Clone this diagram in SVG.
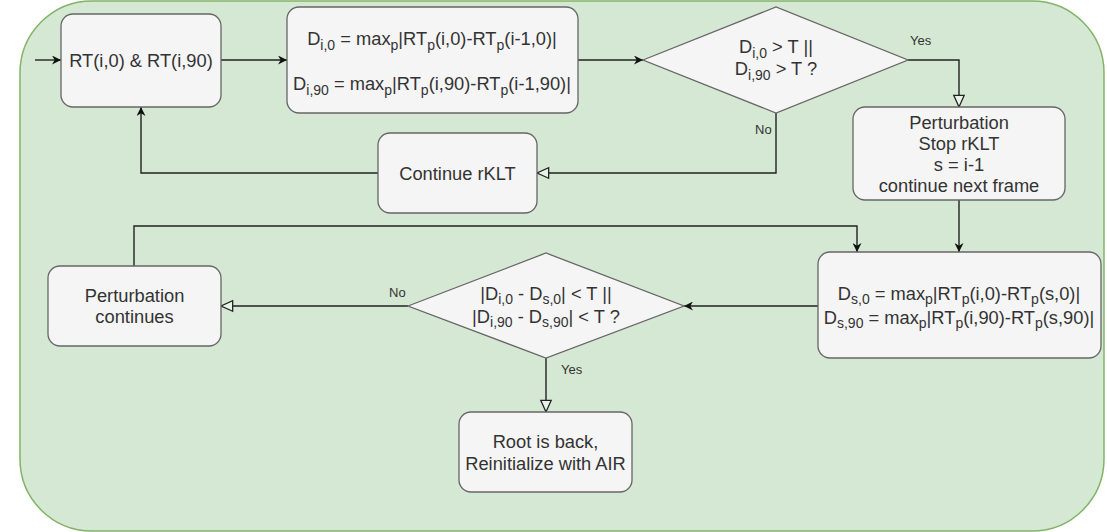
<svg xmlns="http://www.w3.org/2000/svg" width="1107" height="532" viewBox="0 0 1107 532">
<style>
.bg{fill:#d5e8d4;stroke:#82b366;stroke-width:1.5}
.nd{fill:#f5f5f5;stroke:#666666;stroke-width:1.3}
.t{font-family:"Liberation Sans",Arial,sans-serif;font-size:18.3px;fill:#333333;text-anchor:middle}
.sb{font-size:14px}
.lb{font-family:"Liberation Sans",Arial,sans-serif;font-size:13px;fill:#333333}
.e{fill:none;stroke:#222222;stroke-width:1.4}
.fa{marker-end:url(#arr)}
.ha{marker-end:url(#tri)}
</style>
<defs>
<marker id="arr" viewBox="0 0 10 10" refX="10" refY="5" markerWidth="10" markerHeight="9" markerUnits="userSpaceOnUse" orient="auto">
<path d="M0,0 L10,5 L0,10 L3,5 Z" fill="#111111"/>
</marker>
<marker id="tri" viewBox="-1 -1 12 12" refX="10" refY="5" markerWidth="14" markerHeight="14" markerUnits="userSpaceOnUse" orient="auto" overflow="visible">
<path d="M0,0.5 L10,5 L0,9.5 Z" fill="#e9f2e8" stroke="#222222" stroke-width="1.1"/>
</marker>
</defs>
<rect class="bg" x="20" y="1" width="1084" height="530" rx="72" ry="72"/>
<g id="connectors">
<path class="e fa" d="M35,60 H61"/>
<path class="e fa" d="M221,60 H287"/>
<path class="e fa" d="M578,60 H643"/>
<path class="e ha" d="M908,60 H959 V107"/>
<path class="e ha" d="M776,113 V173 H537"/>
<path class="e fa" d="M378,173 H141 V107"/>
<path class="e fa" d="M959,200 V252"/>
<path class="e fa" d="M134,266 V226 H857 V252"/>
<path class="e fa" d="M818,306 H684"/>
<path class="e ha" d="M408,306 H221"/>
<path class="e ha" d="M546,358 V412"/>
<text class="lb" x="910" y="45">Yes</text>
<text class="lb" x="755" y="134">No</text>
<text class="lb" x="389" y="297">No</text>
<text class="lb" x="561" y="374">Yes</text>
</g>
<g id="n1">
<rect class="nd" x="61" y="14" width="160" height="93" rx="12"/>
<text class="t" x="141" y="67">RT(i,0) &amp; RT(i,90)</text>
</g>
<g id="n2">
<rect class="nd" x="287" y="7" width="291" height="106" rx="12"/>
<text class="t" x="432" y="45">D<tspan class="sb" dy="5">i,0</tspan><tspan dy="-5"> = max</tspan><tspan class="sb" dy="5">p</tspan><tspan dy="-5">|RT</tspan><tspan class="sb" dy="5">p</tspan><tspan dy="-5">(i,0)-RT</tspan><tspan class="sb" dy="5">p</tspan><tspan dy="-5">(i-1,0)|</tspan></text>
<text class="t" x="432" y="90">D<tspan class="sb" dy="5">i,90</tspan><tspan dy="-5"> = max</tspan><tspan class="sb" dy="5">p</tspan><tspan dy="-5">|RT</tspan><tspan class="sb" dy="5">p</tspan><tspan dy="-5">(i,90)-RT</tspan><tspan class="sb" dy="5">p</tspan><tspan dy="-5">(i-1,90)|</tspan></text>
</g>
<g id="d1">
<polygon class="nd" points="643,60 776,7 908,60 776,113"/>
<text class="t" x="776" y="53">D<tspan class="sb" dy="5">i,0</tspan><tspan dy="-5"> &gt; T ||</tspan></text>
<text class="t" x="776" y="75">D<tspan class="sb" dy="5">i,90</tspan><tspan dy="-5"> &gt; T ?</tspan></text>
</g>
<g id="cont">
<rect class="nd" x="378" y="133" width="159" height="80" rx="12"/>
<text class="t" x="457.5" y="180">Continue rKLT</text>
</g>
<g id="pert">
<rect class="nd" x="853" y="107" width="212" height="93" rx="12"/>
<text class="t" x="959" y="129">Perturbation</text>
<text class="t" x="959" y="150">Stop rKLT</text>
<text class="t" x="959" y="171">s = i-1</text>
<text class="t" x="959" y="192">continue next frame</text>
</g>
<g id="ds">
<rect class="nd" x="818" y="252" width="283" height="106" rx="12"/>
<text class="t" x="959" y="300">D<tspan class="sb" dy="4">s,0</tspan><tspan dy="-4"> = max</tspan><tspan class="sb" dy="4">p</tspan><tspan dy="-4">|RT</tspan><tspan class="sb" dy="4">p</tspan><tspan dy="-4">(i,0)-RT</tspan><tspan class="sb" dy="4">p</tspan><tspan dy="-4">(s,0)|</tspan></text>
<text class="t" x="959" y="324">D<tspan class="sb" dy="4">s,90</tspan><tspan dy="-4"> = max</tspan><tspan class="sb" dy="4">p</tspan><tspan dy="-4">|RT</tspan><tspan class="sb" dy="4">p</tspan><tspan dy="-4">(i,90)-RT</tspan><tspan class="sb" dy="4">p</tspan><tspan dy="-4">(s,90)|</tspan></text>
</g>
<g id="d2">
<polygon class="nd" points="408,306 546,253 684,306 546,358"/>
<text class="t" x="546" y="300">|D<tspan class="sb" dy="4">i,0</tspan><tspan dy="-4"> - D</tspan><tspan class="sb" dy="4">s,0</tspan><tspan dy="-4">| &lt; T ||</tspan></text>
<text class="t" x="546" y="323">|D<tspan class="sb" dy="4">i,90</tspan><tspan dy="-4"> - D</tspan><tspan class="sb" dy="4">s,90</tspan><tspan dy="-4">| &lt; T ?</tspan></text>
</g>
<g id="pc">
<rect class="nd" x="48" y="266" width="173" height="80" rx="12"/>
<text class="t" x="134.5" y="302">Perturbation</text>
<text class="t" x="134.5" y="323">continues</text>
</g>
<g id="root">
<rect class="nd" x="459" y="412" width="173" height="80" rx="12"/>
<text class="t" x="545.5" y="448">Root is back,</text>
<text class="t" x="545.5" y="470">Reinitialize with AIR</text>
</g>
</svg>
